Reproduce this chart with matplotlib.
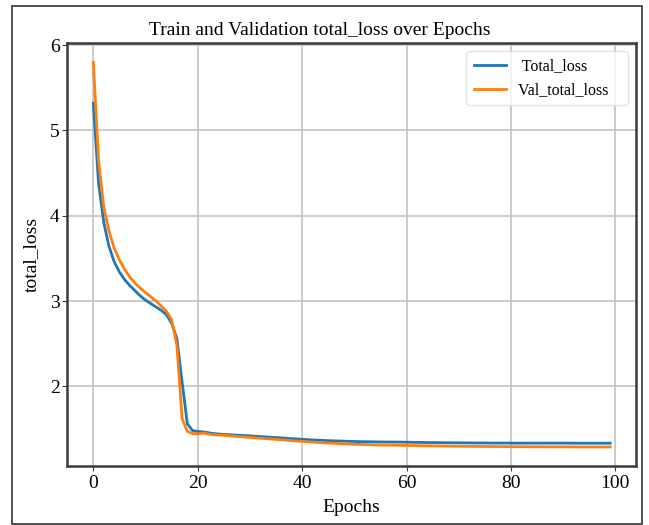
import matplotlib
matplotlib.use('Agg')

import numpy as np
import matplotlib.pyplot as plt
from matplotlib.patches import Rectangle

plt.rcParams['font.family'] = ['Liberation Serif', 'DejaVu Serif']

epochs = list(range(100))

total_loss = [
    5.32, 4.38, 3.92, 3.64, 3.46, 3.34, 3.25, 3.18, 3.12, 3.06,
    3.01, 2.97, 2.93, 2.89, 2.84, 2.74, 2.56, 2.05, 1.56, 1.48,
    1.470, 1.465, 1.455, 1.445, 1.440, 1.435, 1.432, 1.428, 1.425, 1.422,
    1.418, 1.414, 1.410, 1.406, 1.402, 1.398, 1.394, 1.390, 1.386, 1.382,
    1.378, 1.374, 1.371, 1.368, 1.365, 1.362, 1.360, 1.358, 1.356, 1.354,
    1.352, 1.351, 1.350, 1.349, 1.348, 1.347, 1.346, 1.346, 1.345, 1.345,
    1.344, 1.343, 1.342, 1.341, 1.340, 1.340, 1.339, 1.338, 1.338, 1.337,
    1.337, 1.336, 1.336, 1.335, 1.335, 1.335, 1.334, 1.334, 1.334, 1.334,
    1.333, 1.333, 1.333, 1.333, 1.333, 1.333, 1.333, 1.333, 1.333, 1.333,
    1.333, 1.333, 1.333, 1.332, 1.332, 1.332, 1.332, 1.332, 1.332, 1.332,
]

val_total_loss = [
    5.80, 4.65, 4.10, 3.82, 3.62, 3.48, 3.37, 3.28, 3.21, 3.15,
    3.10, 3.05, 3.00, 2.94, 2.88, 2.78, 2.48, 1.62, 1.47, 1.445,
    1.440, 1.452, 1.440, 1.432, 1.428, 1.425, 1.420, 1.415, 1.410, 1.405,
    1.400, 1.396, 1.391, 1.386, 1.381, 1.377, 1.372, 1.367, 1.362, 1.358,
    1.353, 1.349, 1.345, 1.341, 1.337, 1.334, 1.331, 1.328, 1.325, 1.322,
    1.320, 1.318, 1.316, 1.314, 1.312, 1.311, 1.310, 1.309, 1.308, 1.307,
    1.306, 1.305, 1.304, 1.303, 1.302, 1.301, 1.300, 1.299, 1.298, 1.297,
    1.296, 1.296, 1.295, 1.295, 1.294, 1.294, 1.293, 1.293, 1.292, 1.292,
    1.291, 1.291, 1.291, 1.290, 1.290, 1.290, 1.290, 1.289, 1.289, 1.289,
    1.289, 1.289, 1.288, 1.288, 1.288, 1.288, 1.288, 1.288, 1.288, 1.288,
]

fig = plt.figure(figsize=(6.49, 5.25), dpi=100)
ax = fig.add_axes([0.104, 0.112, 0.876, 0.806])

# thin frame around the whole picture
fig.patches.append(Rectangle((12 / 649, 1 / 525), 630 / 649, 518 / 525,
                             transform=fig.transFigure, fill=False,
                             edgecolor='#333333', lw=1.2))

ax.plot(epochs, total_loss, color='#1f77b4', lw=2, label=' Total_loss')
ax.plot(epochs, val_total_loss, color='#ff7f0e', lw=2, label='Val_total_loss   ')

fig.text(0.493, 0.942, 'Train and Validation total_loss over Epochs',
         fontsize=14, ha='center', va='center')
ax.set_xlabel('Epochs', fontsize=14, labelpad=5)
ax.set_ylabel('total_loss', fontsize=14, labelpad=7)
ax.set_xticks([0, 20, 40, 60, 80, 100])
ax.set_yticks([2, 3, 4, 5, 6])
ax.tick_params(axis='both', labelsize=14, labelcolor='black',
               color='#3a3a3a', length=3.5)
ax.tick_params(axis='x', pad=3)
ax.tick_params(axis='y', pad=2)
ax.grid(True, color='#c4c4c4', lw=1.2)
ax.set_axisbelow(True)
for s in ax.spines.values():
    s.set_color('#3a3a3a')
    s.set_linewidth(1.8)

leg = ax.legend(loc='upper right', fontsize=11.5, framealpha=0.8,
                edgecolor='#dddddd', handlelength=2.0, borderpad=0.45)

fig.savefig('out.png', dpi=100)
